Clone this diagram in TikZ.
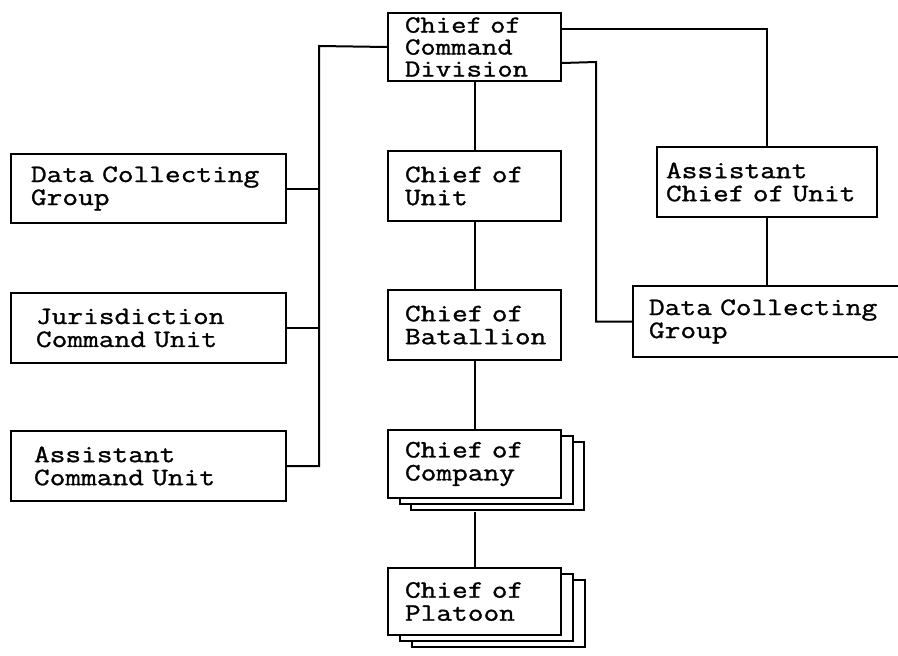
\documentclass[tikz,border=0pt]{standalone}
\usepackage{fontspec}
\usetikzlibrary{calc,shadows}
\newfontfamily\boxfont{Latin Modern Mono}[FakeBold=1.2,FakeStretch=1.22]
\hfuzz=50pt \hbadness=10000
\hyphenpenalty=10000 \exhyphenpenalty=10000
\tikzset{
  conn/.style={line width=2pt},
  box/.style={draw, line width=2pt, fill=white, rectangle, anchor=north west,
    align=left, inner ysep=0pt,
    font=\boxfont\fontsize{25}{23}\selectfont},
  stacked/.style={
    copy shadow={shadow xshift=2*#1, shadow yshift=-#1, line width=2pt},
    copy shadow={shadow xshift=#1, shadow yshift=-0.5*#1, line width=2pt}},
}
\begin{document}
\begin{tikzpicture}[x=1pt,y=-1pt]
\useasboundingbox (0,0) rectangle (898,656);

% central chain of command
\node[box, minimum width=173, minimum height=68, text width=139,
      font=\boxfont\fontsize{24.5}{22}\selectfont] (top) at (387,12)
  {Chief of\\Command\\Division};
\node[box, minimum width=173, minimum height=70, text width=139] (unit) at (387,150)
  {Chief of\\Unit};
\node[box, minimum width=173, minimum height=70, text width=139] (bat) at (387,289)
  {Chief of\\Batallion};
\node[box, stacked=11.5pt, minimum width=173, minimum height=68, text width=139] (comp) at (387,429)
  {Chief of\\Company};
\node[box, stacked=12pt, minimum width=173, minimum height=67, text width=139] (plat) at (387,567)
  {Chief of\\Platoon};

% left column
\node[box, minimum width=275, minimum height=69, text width=235] (dcl) at (10,153)
  {Data Collecting\\Group};
\node[box, minimum width=275, minimum height=70, text width=225] (jcu) at (10,292)
  {Jurisdiction\\Command Unit};
\node[box, minimum width=275, minimum height=70, text width=229] (acu) at (10,430)
  {Assistant\\Command Unit};

% right column
\node[box, minimum width=220, minimum height=70, text width=202] (asst) at (656,146)
  {Assistant\\Chief of Unit};
\node[box, minimum width=272, minimum height=71, text width=240] (dcr) at (632,285)
  {Data Collecting\\Group};

% vertical chain
\draw[conn] (top.south) -- (unit.north);
\draw[conn] (unit.south) -- (bat.north);
\draw[conn] (bat.south) -- (comp.north);
\path (comp.south) ++(0,13) coordinate (compbase);
\draw[conn] (compbase) -- (plat.north);

% left trunk
\coordinate (ltrunk) at (319,46);
\draw[conn] (top.west) -- (ltrunk) |- (acu.east);
\draw[conn] (dcl.east) -- (dcl.east -| ltrunk);
\draw[conn] (jcu.east) -- (jcu.east -| ltrunk);

% right branches
\draw[conn] ($(top.east)+(0,-18)$) -| (asst.north);
\draw[conn] (asst.south) -- (asst.south |- dcr.north);
\coordinate (rtrunk) at (596,62);
\draw[conn] ($(top.east)+(0,16)$) -- (rtrunk) |- (dcr.west);
\end{tikzpicture}
\end{document}
